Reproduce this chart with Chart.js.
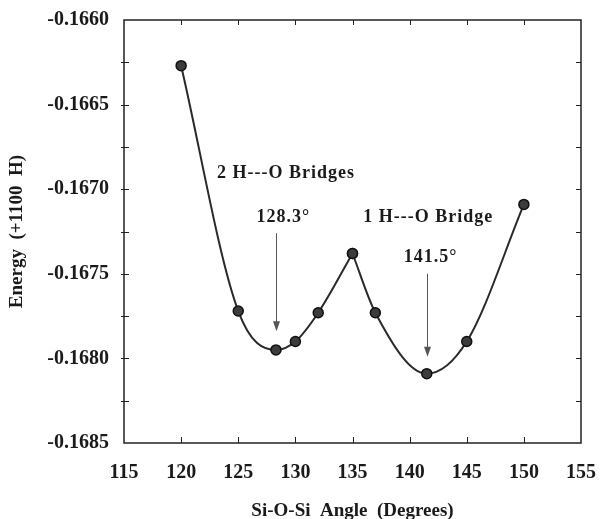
<!DOCTYPE html>
<html>
<head>
<meta charset="utf-8">
<script src="https://cdn.jsdelivr.net/npm/chart.js@4.4.0/dist/chart.umd.min.js"></script>
<style>
  html, body { margin: 0; padding: 0; background: #fff; }
  #chart { display: block; }
</style>
</head>
<body>
<canvas id="chart" width="606" height="519"></canvas>
<script>
// Si-O-Si angle (degrees) and energy (+1100 H)
var angles = [120, 125, 128.3, 130, 132, 135, 137, 141.5, 145, 150];
var energies = [-0.16627, -0.16772, -0.16795, -0.16790, -0.16773, -0.16738, -0.16773, -0.16809, -0.16790, -0.16709];

var xTicks = [115, 120, 125, 130, 135, 140, 145, 150, 155];
var yTicks = [-0.1685, -0.1680, -0.1675, -0.1670, -0.1665, -0.1660];

// the curve has a cusp at 135, so it is drawn as two smooth branches
var peakAngle = 135;

// text and arrows placed in data coordinates
var labels = [
    {text: "2 H---O Bridges", x: 123.14, y: -0.166934, align: "left"},
    {text: "128.3\u00b0", x: 128.94, y: -0.167194, align: "center"},
    {text: "1 H---O Bridge", x: 135.95, y: -0.167194, align: "left"},
    {text: "141.5\u00b0", x: 141.84, y: -0.16743, align: "center"}
];
var arrows = [
    {x: 128.3, from: -0.16726, to: -0.16784},
    {x: 141.5, from: -0.16750, to: -0.16799}
];

function branch(keep)
{
    var pts = [];
    for(var i = 0; i < angles.length; i++)
    {
        if(keep(angles[i]))
        {
            pts.push({x: angles[i], y: energies[i]});
        }
    }
    return pts;
}

var serif = "'Liberation Serif', 'DejaVu Serif', serif";

function lineSet(data)
{
    return {
        data: data,
        borderColor: "#2a2a2a",
        borderWidth: 2,
        cubicInterpolationMode: "monotone",
        pointRadius: 5,
        pointBackgroundColor: "#3c3c3c",
        pointBorderColor: "#111",
        pointBorderWidth: 1.5,
        clip: false
    };
}

//draws the frame, the inward ticks, the labels and the arrows
var decorations = {
    id: "decorations",
    afterDraw: function(chart)
    {
        var ctx = chart.ctx;
        var a = chart.chartArea;
        var xs = chart.scales.x;
        var ys = chart.scales.y;
        ctx.save();
        ctx.strokeStyle = "#222";
        ctx.lineWidth = 1.5;
        ctx.strokeRect(a.left, a.top, a.right - a.left, a.bottom - a.top);

        ctx.lineWidth = 1;
        ctx.beginPath();
        for(var i = 1; i < xTicks.length - 1; i++)
        {
            var px = Math.round(xs.getPixelForValue(xTicks[i])) + 0.5;
            ctx.moveTo(px, a.bottom); ctx.lineTo(px, a.bottom - 6);
            ctx.moveTo(px, a.top); ctx.lineTo(px, a.top + 5);
        }
        var step = (yTicks[1] - yTicks[0]) / 2;
        for(var v = ys.min + step; v < ys.max - step / 2; v += step)
        {
            var py = Math.round(ys.getPixelForValue(v)) + 0.5;
            ctx.moveTo(a.left - 3, py); ctx.lineTo(a.left + 5, py);
            ctx.moveTo(a.right, py); ctx.lineTo(a.right - 5, py);
        }
        ctx.stroke();

        ctx.fillStyle = "#1a1a1a";
        ctx.font = "bold 18px " + serif;
        ctx.letterSpacing = "1px";
        ctx.textBaseline = "alphabetic";
        labels.forEach(function(l)
        {
            ctx.textAlign = l.align;
            ctx.fillText(l.text, xs.getPixelForValue(l.x), ys.getPixelForValue(l.y));
        });
        ctx.letterSpacing = "0px";

        ctx.strokeStyle = "#555";
        ctx.fillStyle = "#555";
        arrows.forEach(function(ar)
        {
            var x = Math.round(xs.getPixelForValue(ar.x)) + 0.5;
            var y0 = ys.getPixelForValue(ar.from);
            var y1 = ys.getPixelForValue(ar.to);
            ctx.beginPath();
            ctx.moveTo(x, y0);
            ctx.lineTo(x, y1 - 8);
            ctx.stroke();
            ctx.beginPath();
            ctx.moveTo(x - 3.5, y1 - 10);
            ctx.lineTo(x + 3.5, y1 - 10);
            ctx.lineTo(x, y1);
            ctx.closePath();
            ctx.fill();
        });
        ctx.restore();
    }
};

var chart = new Chart(document.getElementById("chart"), {
    type: "line",
    data: {
        datasets: [
            lineSet(branch(function(x){ return x <= peakAngle; })),
            lineSet(branch(function(x){ return x >= peakAngle; }))
        ]
    },
    options: {
        responsive: false,
        devicePixelRatio: 1,
        animation: false,
        layout: { padding: { top: 20, right: 20, left: 0, bottom: 0 } },
        plugins: { legend: { display: false }, tooltip: { enabled: false } },
        scales: {
            x: {
                type: "linear",
                min: 115,
                max: 155,
                afterBuildTicks: function(s){ s.ticks = xTicks.map(function(v){ return {value: v}; }); },
                afterFit: function(s){ s.height = 76; },
                grid: { display: false },
                border: { display: false },
                ticks: {
                    color: "#1a1a1a",
                    padding: 10,
                    maxRotation: 0,
                    font: { family: serif, size: 20, weight: "bold" }
                },
                title: {
                    display: true,
                    text: "Si-O-Si  Angle  (Degrees)",
                    color: "#1a1a1a",
                    padding: { top: 0, bottom: -3 },
                    font: { family: serif, size: 19, weight: "bold" }
                }
            },
            y: {
                type: "linear",
                min: -0.1685,
                max: -0.1660,
                afterBuildTicks: function(s){ s.ticks = yTicks.map(function(v){ return {value: v}; }); },
                afterFit: function(s){ s.width = 124; },
                grid: { display: false },
                border: { display: false },
                ticks: {
                    color: "#1a1a1a",
                    padding: 7,
                    font: { family: serif, size: 20, weight: "bold" },
                    callback: function(v){ return v.toFixed(4); }
                },
                title: {
                    display: true,
                    text: "Energy  (+1100  H)",
                    color: "#1a1a1a",
                    padding: { top: 6, bottom: 0 },
                    font: { family: serif, size: 19, weight: "bold" }
                }
            }
        }
    },
    plugins: [decorations]
});
</script>
</body>
</html>
